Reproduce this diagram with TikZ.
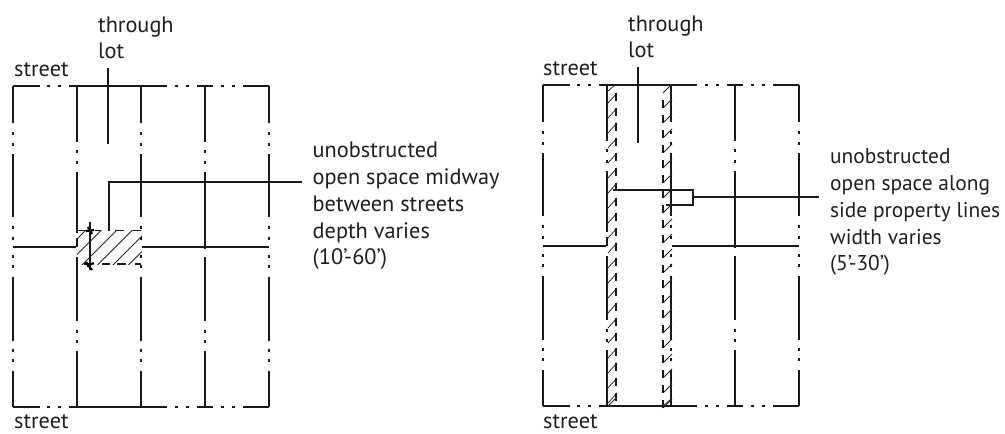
\documentclass[tikz,border=0pt]{standalone}
\usepackage{fontspec}
\setmainfont{PT Sans}
\newcommand{\siteframe}{%
  \foreach \yy in {86,407}{
    \draw[plan] (13,\yy) -- (40,\yy) (69,\yy) -- (167,\yy) (197,\yy) -- (213,\yy) (243,\yy) -- (269,\yy);
    \foreach \xx in {48,59,176,187,222,233} \draw[dotm] (\xx-1.5,\yy) -- (\xx+1.5,\yy);
  }
  \draw[plan] (13,86) -- (13,123) (13,154) -- (13,217) (13,277) -- (13,341) (13,371) -- (13,407);
  \draw[plan] (269,86) -- (269,123) (269,154) -- (269,217) (269,277) -- (269,341) (269,371) -- (269,407);
  \foreach \xx in {13,269} \foreach \yy in {133,144,227,238,256,266,350,360}
    \draw[dotm] (\xx,\yy-1.5) -- (\xx,\yy+1.5);
  \draw[plan] (205,86) -- (205,142) (205,172) -- (205,249) (205,257) -- (205,321) (205,351) -- (205,407);
  \foreach \yy in {151,162,331,341} \draw[dotm] (205,\yy-1.5) -- (205,\yy+1.5);
  \draw[plan] (13,247) -- (76,247) (142,247) -- (269,247);
}
\newcommand{\innerposts}{%
  \draw[plan] (77,86) -- (77,142) (77,172) -- (77,233) (77,238) -- (77,247) (77,257) -- (77,321) (77,351) -- (77,407);
  \foreach \yy in {151,162,331,341} \draw[dotm] (77,\yy-1.5) -- (77,\yy+1.5);
  \draw[plan] (141,86) -- (141,123) (141,154) -- (141,217) (141,277) -- (141,341) (141,371) -- (141,407);
  \foreach \yy in {133,144,227,238,256,266,350,360} \draw[dotm] (141,\yy-1.5) -- (141,\yy+1.5);
}
\newcommand{\labelblock}[8]{%
  \node[txt,#8] (#1a) at (#2,#7) {unobstructed};
  \node[txt,#8] (#1b) at (#2,#7+27) {#3};
  \node[txt,#8] (#1c) at (#2,#7+54) {#4};
  \node[txt,#8] (#1d) at (#2,#7+81) {#5};
  \node[txt,#8] (#1e) at (#2,#7+107) {#6};
}
\begin{document}
\begin{tikzpicture}[x=1pt,y=-1pt,
  plan/.style={line width=2pt,black!90},
  dotm/.style={line width=2.4pt,black!90},
  leader/.style={line width=2.4pt,black!90},
  hatchl/.style={line width=0.8pt,black!85},
  edged/.style={line width=1.6pt,black!90},
  txt/.style={font=\fontsize{22.3}{26}\selectfont,inner sep=0pt,anchor=base west,text=black!88},
  txtsmall/.style={font=\fontsize{21.4}{26}\selectfont}]
\useasboundingbox (0,0) rectangle (1005,434);
% ---------- left diagram ----------
\begin{scope}
  \siteframe
  \innerposts
  \begin{scope}
    \clip (77,230) rectangle (142,264);
    \foreach \kk in {316,331.5,...,410} \draw[hatchl] (\kk-225,225) -- (\kk-270,270);
  \end{scope}
  \draw[edged] (77,230.5) -- (90,230.5) (95,230.5) -- (101,230.5) (115,230.5) -- (124,230.5) (133,230.5) -- (141,230.5);
  \draw[edged] (84,264) -- (92,264) (102,264) -- (110,264) (117,264) -- (126,264) (135,264) -- (141,264);
  \coordinate (a1) at (108,68);
  \coordinate (a2) at (108,144);
  \draw[leader] (a1) -- (a2);
  \coordinate (b1) at (109,231);
  \coordinate (b2) at (109,182);
  \coordinate (b3) at (302,182);
  \draw[leader] (b1) -- (b2) -- (b3);
  \coordinate (c1) at (90,222);
  \coordinate (c2) at (90,270);
  \draw[leader,line width=1.8pt] (c1) -- (c2);
  \draw[line width=2.2pt] (86,231) -- (94,230) (87,266) -- (94,263);
  \draw[line width=2.2pt] (88,227) -- (92,234) (86,262) -- (92,270);
  \node[txt] (t1) at (98,32) {through};
  \node[txt] (t2) at (98,58) {lot};
  \node[txt] (t3) at (14,76) {street};
  \node[txt] (t4) at (14,428) {street};
  \labelblock{L}{312.5}{open space midway}{between streets}{depth varies}{(10'-60')}{157.5}{}
\end{scope}
% ---------- right diagram ----------
\begin{scope}[shift={(530,-1)}]
  \siteframe
  \innerposts
  \foreach \kk in {0,...,20}{
    \draw[hatchl] (78,104+15*\kk) -- (87,94+15*\kk);
    \draw[edged] (86,94+15*\kk) -- (86,102+15*\kk);
    \draw[hatchl] (133,109+15*\kk) -- (142,100+15*\kk);
    \draw[edged] (133,101+15*\kk) -- (133,109+15*\kk);
  }
  \draw[hatchl] (78,92) -- (85,86) (133,94) -- (141,86) (78,407) -- (87,398) (133,407) -- (141,400);
  \coordinate (d1) at (108,68);
  \coordinate (d2) at (108,144);
  \draw[leader,line width=1.9pt] (d1) -- (d2);
  \coordinate (e1) at (83,191);
  \coordinate (e2) at (163,191);
  \coordinate (e3) at (163,206);
  \coordinate (e4) at (136,206);
  \draw[leader] (e1) -- (e2) -- (e3) -- (e4);
  \coordinate (f1) at (163,198);
  \coordinate (f2) at (289,198);
  \draw[leader] (f1) -- (f2);
  \node[txt] (u1) at (98,32) {through};
  \node[txt] (u2) at (98,58) {lot};
  \node[txt] (u3) at (13,76) {street};
  \node[txt] (u4) at (13,429) {street};
  \labelblock{R}{300}{open space along}{side property lines}{width varies}{(5'-30')}{164}{txtsmall}
\end{scope}
\end{tikzpicture}
\end{document}
